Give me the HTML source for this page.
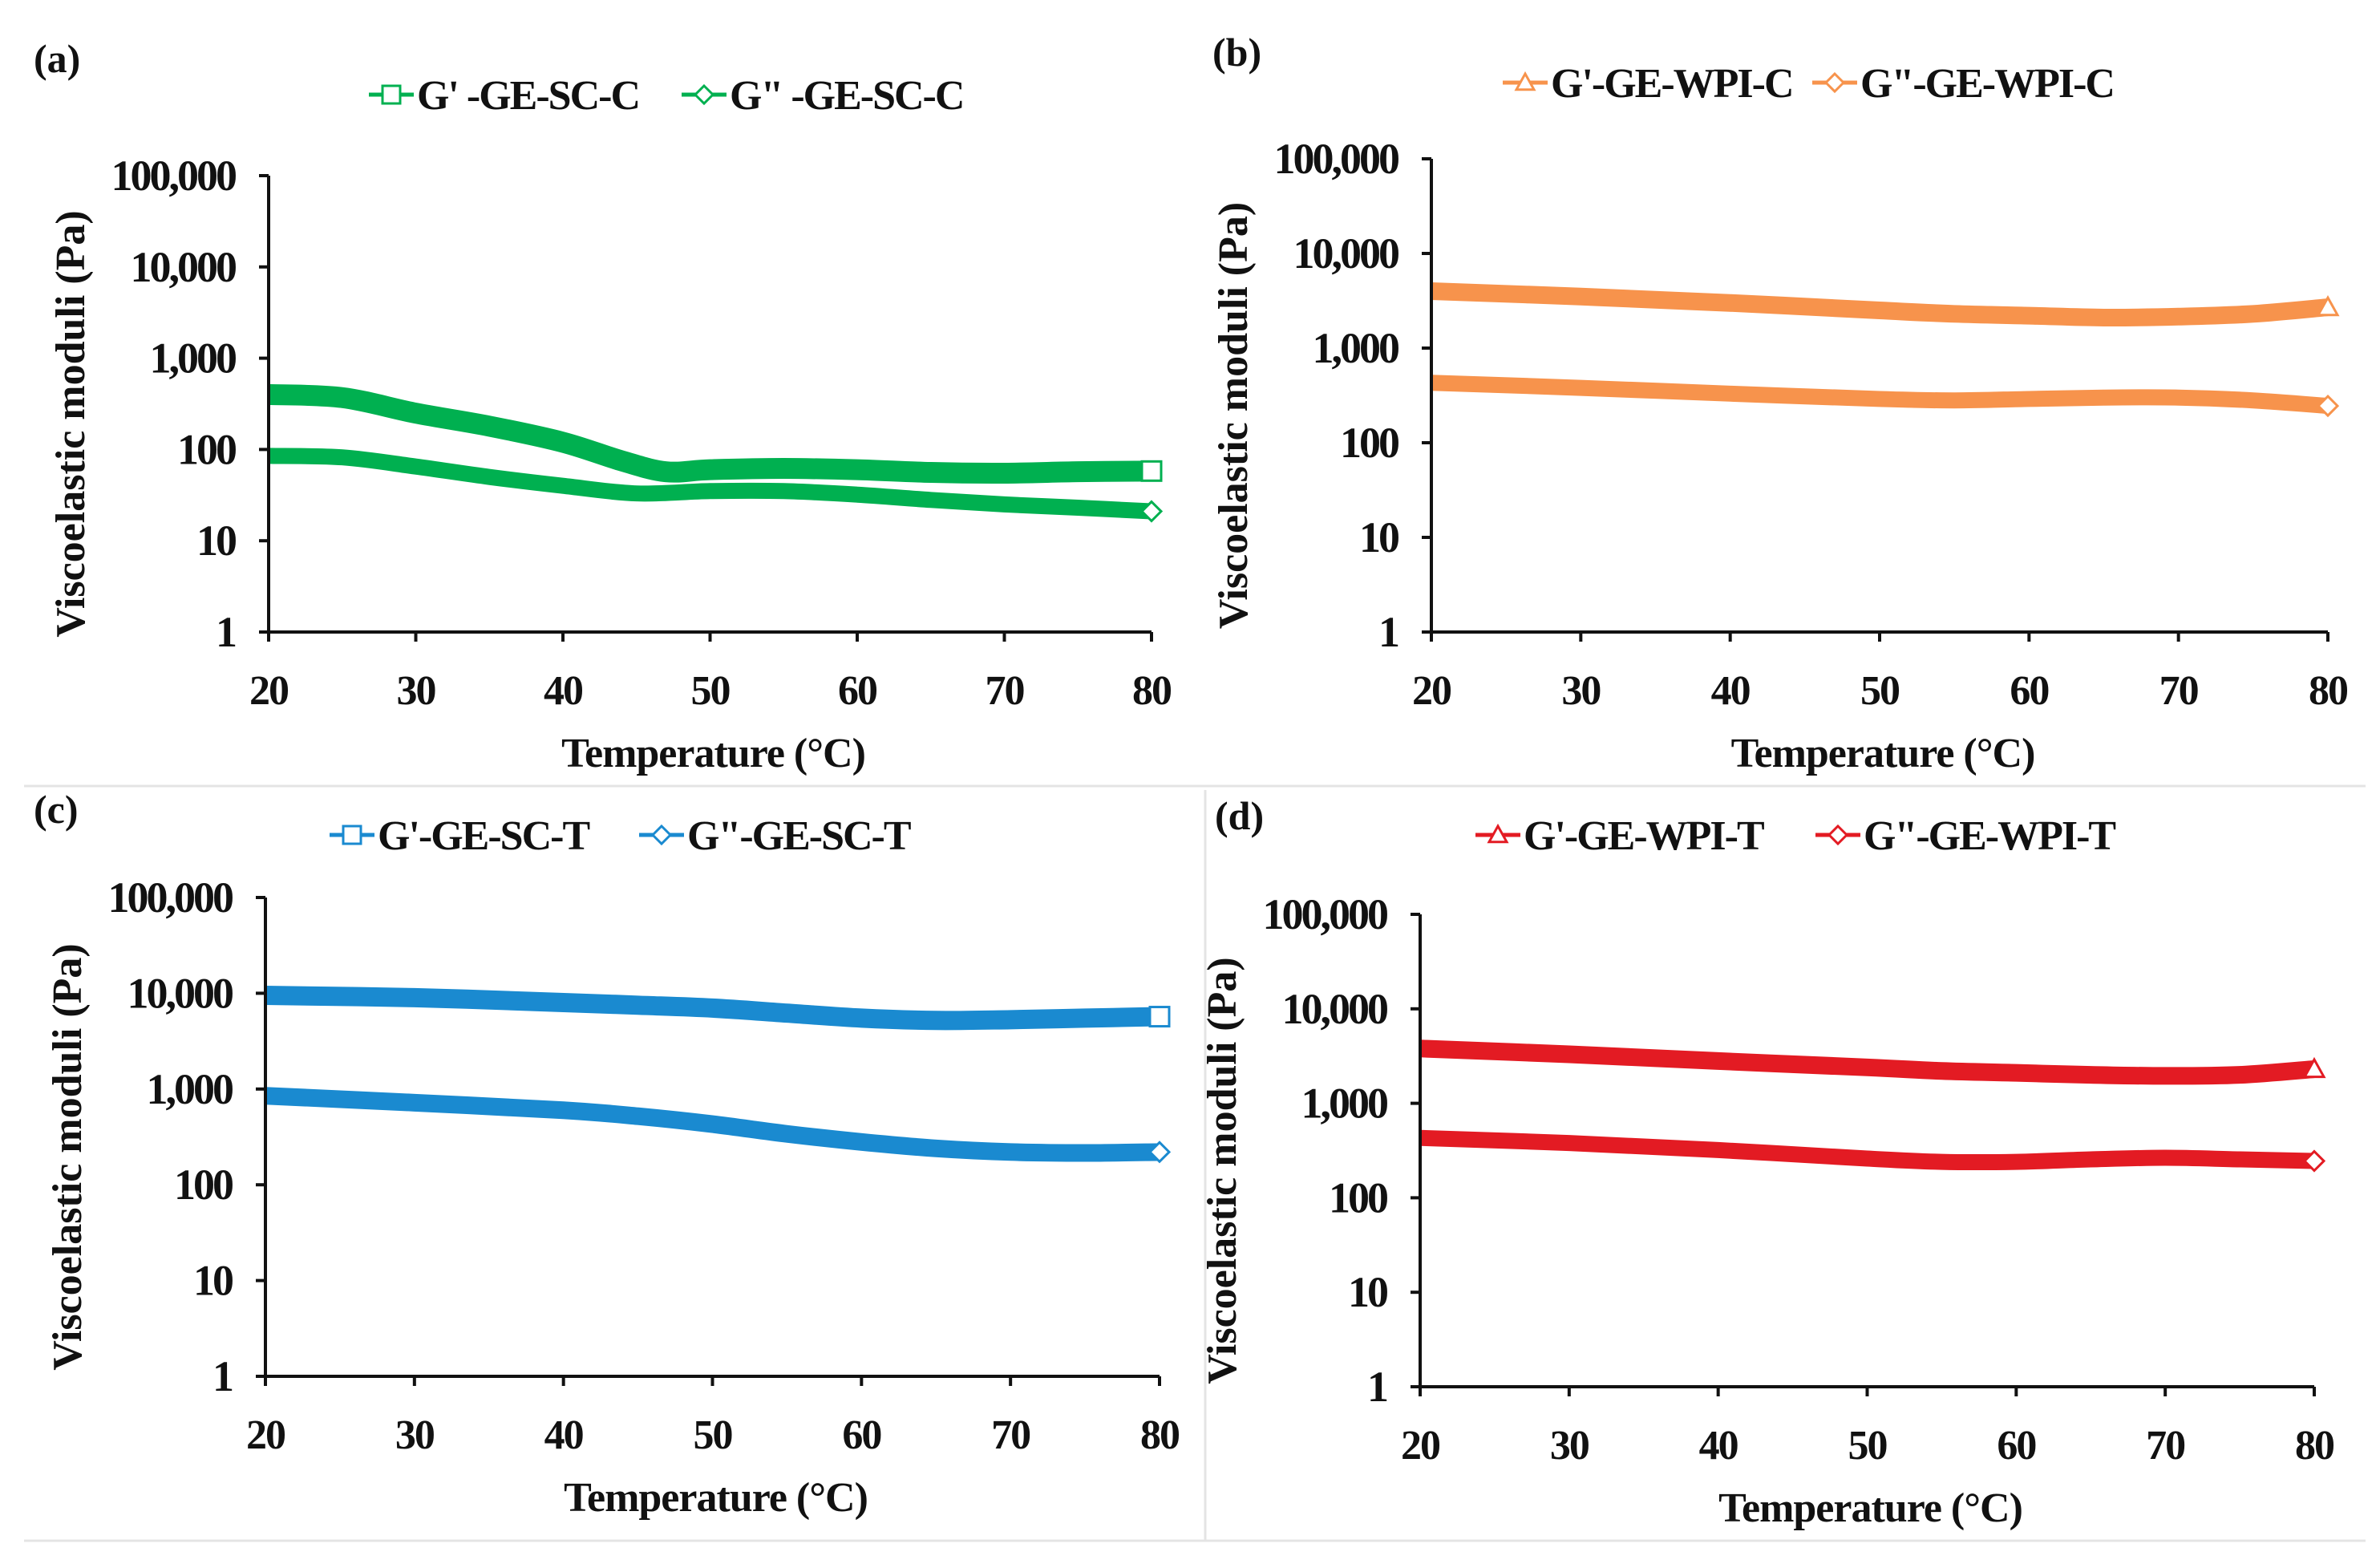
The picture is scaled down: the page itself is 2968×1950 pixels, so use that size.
<!DOCTYPE html>
<html><head><meta charset="utf-8"><style>
html,body{margin:0;padding:0;background:#fff;}
svg{display:block;}
text{font-family:"Liberation Serif",serif;font-weight:bold;fill:#111;}
</style></head><body>
<svg id="fig" width="2968" height="1950" viewBox="0 0 2968 1950" xmlns="http://www.w3.org/2000/svg">
<line x1="30" y1="980" x2="2950" y2="980" stroke="#e4e4e4" stroke-width="3"/>
<line x1="1503" y1="985" x2="1503" y2="1920" stroke="#e4e4e4" stroke-width="3"/>
<line x1="30" y1="1921" x2="2950" y2="1921" stroke="#e4e4e4" stroke-width="3"/>
</svg>
<script>
// shared axes
const xTicks = [20, 30, 40, 50, 60, 70, 80];
const yTicks = [1, 10, 100, 1000, 10000, 100000];
const yTickLabels = ["1", "10", "100", "1,000", "10,000", "100,000"];

// panel (a)
const tempA1 = [20, 25, 30, 35, 40, 44, 47, 50, 55, 60, 65, 70, 75, 80];
const gpA = [400, 370, 250, 180, 120, 75, 57, 60, 62, 60, 56, 55, 57, 58];
const tempA2 = [20, 25, 30, 35, 40, 45, 50, 55, 60, 65, 70, 75, 80];
const gppA = [85, 82, 65, 50, 40, 33, 35, 35, 32, 28, 25, 23, 21];
// panel (b)
const tempB = [20, 30, 40, 50, 55, 60, 65, 70, 75, 80];
const gpB = [4000, 3500, 3000, 2500, 2300, 2200, 2100, 2150, 2300, 2700];
const gppB = [430, 380, 330, 290, 280, 290, 300, 300, 280, 245];
// panel (c)
const tempC = [20, 30, 40, 45, 50, 55, 60, 65, 70, 75, 80];
const gpC = [9500, 9000, 8000, 7500, 7000, 6200, 5500, 5200, 5300, 5500, 5700];
const gppC = [850, 720, 600, 520, 430, 340, 280, 240, 220, 215, 220];
// panel (d)
const tempD = [20, 30, 40, 50, 55, 60, 65, 70, 75, 80];
const gpD = [3800, 3300, 2800, 2400, 2200, 2100, 2000, 1950, 2000, 2300];
const gppD = [430, 380, 320, 260, 240, 240, 255, 265, 255, 245];

const NS = "http://www.w3.org/2000/svg";
const svg = document.getElementById("fig");
function mk(tag, attrs, parent, txt) {
  const e = document.createElementNS(NS, tag);
  for (const k in attrs) e.setAttribute(k, attrs[k]);
  if (txt !== undefined) e.textContent = txt;
  (parent || svg).appendChild(e);
  return e;
}

const panels = [
  {id:"a", x0:335, x1:1436, yTop:219, yBot:788, label:"(a)", lx:42, ly:90, col:"#00b050",
   legY:118, leg:[{x:460,t:"G' -GE-SC-C",m:"square"},{x:850,t:"G\" -GE-SC-C",m:"diamond"}],
   series:[{t:tempA1,v:gpA,m:"square",w:26},{t:tempA2,v:gppA,m:"diamond",w:20}]},
  {id:"b", x0:1785, x1:2903, yTop:198, yBot:788, label:"(b)", lx:1512, ly:82, col:"#f7934c",
   legY:103, leg:[{x:1874,t:"G'-GE-WPI-C",m:"triangle"},{x:2260,t:"G\"-GE-WPI-C",m:"diamond"}],
   series:[{t:tempB,v:gpB,m:"triangle",w:22},{t:tempB,v:gppB,m:"diamond",w:20}]},
  {id:"c", x0:331, x1:1446, yTop:1119, yBot:1716, label:"(c)", lx:42, ly:1026, col:"#1a8ad0",
   legY:1041, leg:[{x:411,t:"G'-GE-SC-T",m:"square"},{x:797,t:"G\"-GE-SC-T",m:"diamond"}],
   series:[{t:tempC,v:gpC,m:"square",w:24},{t:tempC,v:gppC,m:"diamond",w:22}]},
  {id:"d", x0:1771, x1:2886, yTop:1140, yBot:1729, label:"(d)", lx:1515, ly:1034, col:"#e31b23",
   legY:1041, leg:[{x:1840,t:"G'-GE-WPI-T",m:"triangle"},{x:2264,t:"G\"-GE-WPI-T",m:"diamond"}],
   series:[{t:tempD,v:gpD,m:"triangle",w:22},{t:tempD,v:gppD,m:"diamond",w:20}]}
];

function marker(g, type, cx, cy, s, col) {
  let e;
  if (type === "square") e = mk("rect", {x:cx-s, y:cy-s, width:2*s, height:2*s, fill:"#fff", stroke:col, "stroke-width":3}, g);
  else if (type === "diamond") e = mk("polygon", {points:`${cx},${cy-s} ${cx+s},${cy} ${cx},${cy+s} ${cx-s},${cy}`, fill:"#fff", stroke:col, "stroke-width":3}, g);
  else e = mk("polygon", {points:`${cx},${cy-s} ${cx+s},${cy+s*0.8} ${cx-s},${cy+s*0.8}`, fill:"#fff", stroke:col, "stroke-width":3}, g);
  
  
}

function smoothPath(pts) {
  let d = `M${pts[0][0]},${pts[0][1]}`;
  for (let i = 0; i < pts.length - 1; i++) {
    const p0 = pts[Math.max(i-1,0)], p1 = pts[i], p2 = pts[i+1], p3 = pts[Math.min(i+2,pts.length-1)];
    const c1x = p1[0] + (p2[0]-p0[0])/6, c1y = p1[1] + (p2[1]-p0[1])/6;
    const c2x = p2[0] - (p3[0]-p1[0])/6, c2y = p2[1] - (p3[1]-p1[1])/6;
    d += ` C${c1x},${c1y} ${c2x},${c2y} ${p2[0]},${p2[1]}`;
  }
  return d;
}

panels.forEach(p => {
  const g = mk("g", {});
  
  
  const xs = t => p.x0 + (t - 20) / 60 * (p.x1 - p.x0);
  const ys = v => p.yBot - Math.log10(v) / 5 * (p.yBot - p.yTop);

  const lab = mk("text", {x:p.lx, y:p.ly, "font-size":50}, g, p.label);
  
  

  p.series.forEach((s, si) => {
    const pts = s.t.map((t, i) => [xs(t), ys(s.v[i])]);
    const path = mk("path", {d:smoothPath(pts), fill:"none", stroke:p.col, "stroke-width":s.w, "stroke-linecap":"butt"}, g);
    
    
  });

  const ya = mk("line", {x1:p.x0, y1:p.yTop, x2:p.x0, y2:p.yBot, stroke:"#111", "stroke-width":4}, g);
  
  
  const xa = mk("line", {x1:p.x0, y1:p.yBot, x2:p.x1, y2:p.yBot, stroke:"#111", "stroke-width":4}, g);
  
  

  yTicks.forEach((v, i) => {
    const y = ys(v);
    const tk = mk("line", {x1:p.x0-12, y1:y, x2:p.x0, y2:y, stroke:"#111", "stroke-width":4}, g);
    
    
    const tl = mk("text", {x:p.x0-42, y:y+18, "font-size":54, "text-anchor":"end", "letter-spacing":"-3"}, g, yTickLabels[i]);
    
    
  });
  xTicks.forEach(t => {
    const x = xs(t);
    const tk = mk("line", {x1:x, y1:p.yBot, x2:x, y2:p.yBot+12, stroke:"#111", "stroke-width":4}, g);
    
    
    const tl = mk("text", {x:x, y:p.yBot+90, "font-size":52, "text-anchor":"middle", "letter-spacing":"-2"}, g, String(t));
    
    
  });
  const xt = mk("text", {x:(p.x0+p.x1)/2+4, y:p.yBot+168, "font-size":52, "text-anchor":"middle", "letter-spacing":"-1"}, g, "Temperature (°C)");
  
  
  const cy = (p.yTop + p.yBot) / 2 + 25;
  const tx = p.x0 - 230;
  const yt = mk("text", {x:tx, y:cy, "font-size":52, "text-anchor":"middle", "letter-spacing":"0", transform:`rotate(-90 ${tx} ${cy})`}, g, "Viscoelastic moduli (Pa)");
  
  

  p.series.forEach(s => {
    const i = s.t.length - 1;
    marker(g, s.m, xs(s.t[i]), ys(s.v[i]), 12, p.col);
  });

  p.leg.forEach(l => {
    const lg = mk("g", {}, g);
    
    
    mk("line", {x1:l.x, y1:p.legY, x2:l.x+56, y2:p.legY, stroke:p.col, "stroke-width":5}, lg);
    marker(lg, l.m, l.x+28, p.legY, 11, p.col);
    mk("text", {x:l.x+60, y:p.legY+18, "font-size":52, "letter-spacing":"-2"}, lg, l.t);
  });
});
</script>
</body></html>
